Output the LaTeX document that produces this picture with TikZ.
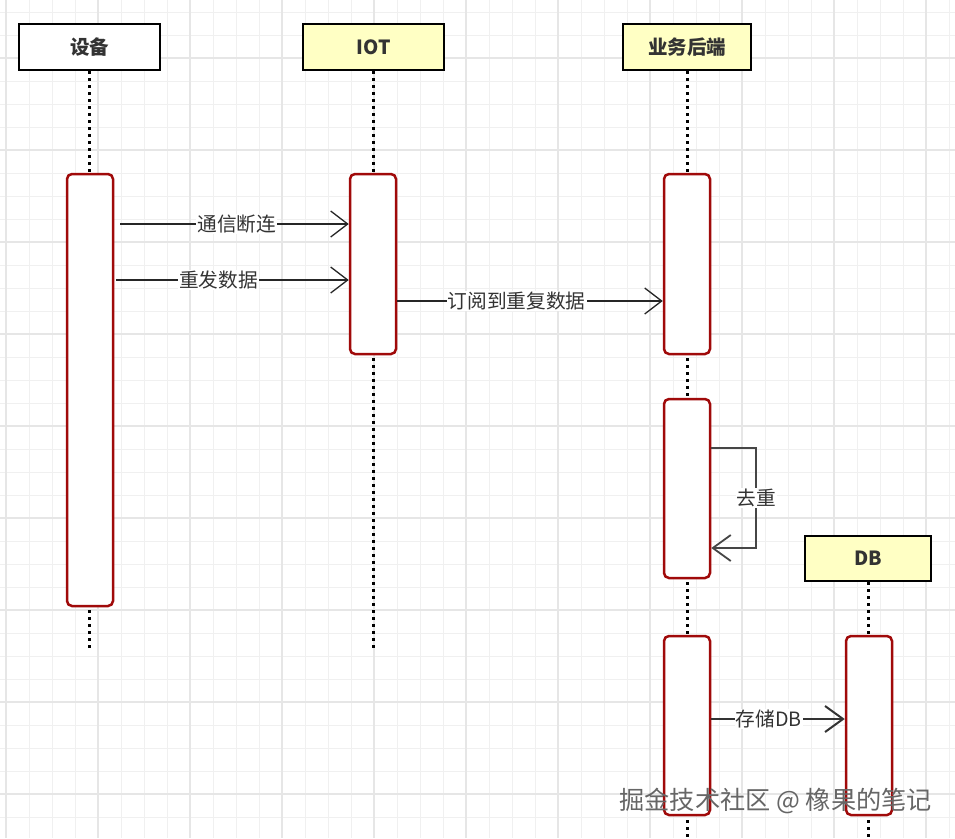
\documentclass[tikz,border=0pt]{standalone}
\usepackage{fontspec}
\setmainfont{Noto Sans CJK SC}
\usetikzlibrary{arrows.meta}
\definecolor{actred}{RGB}{160,10,10}
\definecolor{headyellow}{RGB}{255,255,196}
\definecolor{gridminor}{RGB}{240,240,240}
\definecolor{gridmajor}{RGB}{230,230,230}
\definecolor{labelgray}{RGB}{51,51,51}
\definecolor{loopgray}{RGB}{70,70,70}
\tikzset{
  header/.style={draw=black, line width=2.5pt, minimum width=141pt, minimum height=46pt, inner sep=0pt,
    font=\fontsize{19.5}{21}\selectfont\bfseries, text=labelgray},
  activation/.style={draw=actred, fill=white, line width=2.5pt, rounded corners=5pt, minimum width=46pt, inner sep=0pt},
  lifeline/.style={line width=3pt, dash pattern=on 3pt off 4pt, black},
  msg/.style={line width=1.3pt, draw=black!85, -{Straight Barb[length=17pt,width=26pt,line width=1.3pt]}},
  msglabel/.style={fill=white, inner sep=1pt, text=labelgray, font=\fontsize{19.7}{21}\selectfont},
}
\begin{document}
\begin{tikzpicture}[x=1pt,y=-1pt]
\useasboundingbox (0,0) rectangle (955,838);
\fill[white] (0,0) rectangle (955,838);
% grid
\foreach \i in {0,...,41} {
  \pgfmathsetmacro{\xx}{6+23*\i}
  \draw[gridminor, line width=1pt] (\xx,0) -- (\xx,838);
}
\foreach \i in {0,...,37} {
  \pgfmathsetmacro{\yy}{12+23*\i}
  \draw[gridminor, line width=1pt] (0,\yy) -- (955,\yy);
}
\foreach \i in {0,...,10} {
  \pgfmathsetmacro{\xx}{6+92*\i}
  \draw[gridmajor, line width=1.5pt] (\xx,0) -- (\xx,838);
}
\foreach \i in {0,...,9} {
  \pgfmathsetmacro{\yy}{-34+92*\i}
  \draw[gridmajor, line width=1.5pt] (0,\yy) -- (955,\yy);
}
% headers
\node[header, fill=white] (dev) at (89.5,47) {设备};
\node[header, fill=headyellow] (iot) at (373.5,47) {IOT};
\node[header, fill=headyellow, minimum width=128pt] (biz) at (687,47) {业务后端};
\node[header, fill=headyellow, minimum width=126pt, minimum height=45pt] (db) at (868,558.5) {DB};
% lifeline ends
\coordinate (devend) at (89.5,648);
\coordinate (iotend) at (373.5,648);
\coordinate (bizend) at (687,838);
\coordinate (dbend) at (868,838);
\draw[lifeline] (dev.south) -- (devend);
\draw[lifeline] (iot.south) -- (iotend);
\draw[lifeline] (biz.south) -- (bizend);
\draw[lifeline] (db.south) -- (dbend);
% activations
\node[activation, minimum height=432pt] (deva) at (90,390) {};
\node[activation, minimum height=180pt] (iota) at (373,264) {};
\node[activation, minimum height=180pt] (biza1) at (687,264) {};
\node[activation, minimum height=179pt] (biza2) at (687,488.5) {};
\node[activation, minimum height=179pt] (biza3) at (687,725.5) {};
\node[activation, minimum height=179pt] (dba) at (869,725.5) {};
% messages
\draw[msg] ([xshift=6pt]deva.east |- 0,224) -- node[msglabel, pos=0.51]{通信断连} (iota.west |- 0,224);
\draw[msg] ([xshift=2pt]deva.east |- 0,280) -- node[msglabel, pos=0.44]{重发数据} (iota.west |- 0,280);
\draw[msg] (iota.east |- 0,301) -- node[msglabel, pos=0.45]{订阅到重复数据} (biza1.west |- 0,301);
\draw[msg, draw=loopgray, line width=1.8pt, -{Straight Barb[length=18pt,width=26pt,line width=1.8pt]}]
  (biza2.east |- 0,448) -- ++(45,0) -- node[msglabel]{去重} ++(0,100) -- (biza2.east |- 0,548);
\draw[msg, draw=labelgray, line width=2pt, -{Straight Barb[length=18pt,width=26pt,line width=2pt]}]
  (biza3.east |- 0,719) -- node[msglabel, pos=0.43]{存储DB} (dba.west |- 0,719);
% watermark
\node[anchor=east, text=black!60, inner sep=0pt, font=\fontsize{25.2}{27}\selectfont] (wm) at (932,801) {掘金技术社区 @ 橡果的笔记};
\end{tikzpicture}
\end{document}
